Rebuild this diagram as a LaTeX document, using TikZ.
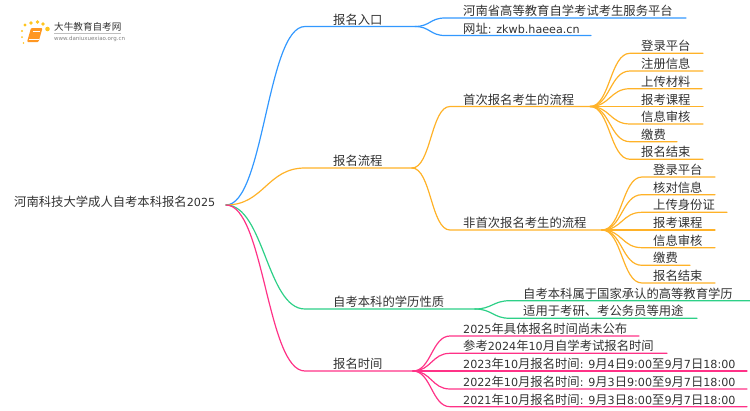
\documentclass[tikz,border=0pt]{standalone}
\usepackage{fontspec}
\setmainfont[Scale=0.905]{DejaVu Sans}
\newfontfamily\cjk{Noto Sans CJK SC}
\newfontfamily\lat[Scale=0.905]{DejaVu Sans}
% hanzi runs switch to the CJK font by themselves
\XeTeXinterchartokenstate=1
\newXeTeXintercharclass\hanzi
\count255="4E00
\loop\XeTeXcharclass\count255=\hanzi\ifnum\count255<"9FFF\advance\count255 by 1\repeat
\XeTeXcharclass"3001=\hanzi
\XeTeXinterchartoks 0 \hanzi={\cjk}
\XeTeXinterchartoks 4095 \hanzi={\cjk}
\XeTeXinterchartoks \hanzi 0={\lat}
\XeTeXinterchartoks \hanzi 4095={\lat}
\definecolor{blueline}{RGB}{50,152,255}
\definecolor{orangeline}{RGB}{255,178,40}
\definecolor{greenline}{RGB}{45,208,135}
\definecolor{pinkline}{RGB}{255,50,135}
\definecolor{inktext}{RGB}{50,50,50}
\tikzset{
	lbl/.style={anchor=base west, inner sep=0pt, yshift=2.4pt, text=inktext, font=\fontsize{12.33}{14}\selectfont},
	wire/.style={line width=1.2pt, line cap=round},
	link/.style={out=0, in=180, distance=#1}
}

\begin{document}
\begin{tikzpicture}[x=1pt, y=-1pt]
	\useasboundingbox (0,0) rectangle (750,410);
	% logo
	\foreach \k/\x/\y/\r in {a/23.5/43/.8, b/22/37/1, c/22/31/1.2, d/25/25/1.6, e/31/23/1.9, f/37.5/22/1.9, g/43/24/1.9, h/47.5/29/2.3}
		\fill[orangeline!75!yellow] (\x,\y) circle (\r);
	\fill[orangeline!85!red, rounded corners=1pt] (31,28) -- (42.5,28) -- (38.5,42) -- (27,42) -- cycle;
	\draw[white, line width=.5pt] (29,39.5) -- (38.5,39.5);
	\draw[white, line width=.5pt] (32.5,31) -- (39.5,31);
	\node[anchor=west, inner sep=0pt, text=inktext, font=\fontsize{9.6}{11}\selectfont] (logotext) at (54,27) {大牛教育自考网};
	\node[anchor=west, inner sep=0pt, text=gray, font=\fontsize{6.1}{7}\selectfont] (logourl) at (54,39) {www.daniuxuexiao.org.cn};
	\draw[black!25, line width=.4pt] (logotext.south west |- 0,33.5) -- (121,33.5);

	% root
	\node[lbl] (title) at (14,208.5) {河南科技大学成人自考本科报名2025};
	\coordinate (root) at (226,205);

	% main branches
	\coordinate (entry) at (305,26.5);
	\coordinate (entryend) at (415,26.5);
	\coordinate (flow) at (305,168);
	\coordinate (flowend) at (412,168);
	\coordinate (kind) at (305,309);
	\coordinate (kindend) at (475,309);
	\coordinate (date) at (305,371);
	\coordinate (dateend) at (413,371);
	\node[lbl] (entrytext) at (333,26.5) {报名入口};
	\node[lbl] (flowtext) at (333,168) {报名流程};
	\node[lbl] (kindtext) at (333,309) {自考本科的学历性质};
	\node[lbl] (datetext) at (333,371) {报名时间};
	\draw[wire, blueline] (root) to[link=38] (entry) -- (entryend);
	\draw[wire, orangeline] (root) to[link=38] (flow) -- (flowend);
	\draw[wire, greenline] (root) to[link=38] (kind) -- (kindend);
	\draw[wire, pinkline] (root) to[link=38] (date) -- (dateend);

	% entry
	\foreach \k/\y/\e/\t in {a/18/686/河南省高等教育自学考试考生服务平台, b/35.5/591/网址: zkwb.haeea.cn}
	{
		\coordinate (en\k) at (445,\y);
		\coordinate (ene\k) at (\e,\y);
		\node[lbl] (ent\k) at (463,\y) {\t};
		\draw[wire, blueline] (entryend) to[link=15] (en\k) -- (ene\k);
	}

	% flow
	\coordinate (first) at (450,106.5);
	\coordinate (firstend) at (590,106.5);
	\coordinate (again) at (450,230);
	\coordinate (againend) at (602,230);
	\node[lbl] (firsttext) at (463,106.5) {首次报名考生的流程};
	\node[lbl] (againtext) at (463,230) {非首次报名考生的流程};
	\draw[wire, orangeline] (flowend) to[link=19] (first) -- (firstend);
	\draw[wire, orangeline] (flowend) to[link=19] (again) -- (againend);
	\foreach \k/\y/\e/\t in {a/53.3/703/登录平台, b/71/703/注册信息, c/88.7/702/上传材料, d/106.5/703/报考课程, e/124/703/信息审核, f/141.7/677/缴费, g/159.3/703/报名结束}
	{
		\coordinate (fi\k) at (630,\y);
		\coordinate (fie\k) at (\e,\y);
		\node[lbl] (fit\k) at (641,\y) {\t};
		\draw[wire, orangeline] (firstend) to[link=20] (fi\k) -- (fie\k);
	}
	\foreach \k/\y/\e/\t in {a/177/715/登录平台, b/194.7/715/核对信息, c/212.3/727/上传身份证, d/230/715/报考课程, e/247.7/715/信息审核, f/265.3/690/缴费, g/283/715/报名结束}
	{
		\coordinate (ag\k) at (642,\y);
		\coordinate (age\k) at (\e,\y);
		\node[lbl] (agt\k) at (653,\y) {\t};
		\draw[wire, orangeline] (againend) to[link=20] (ag\k) -- (age\k);
	}

	% kind
	\foreach \k/\y/\e/\t in {a/300.7/750/自考本科属于国家承认的高等教育学历, b/318.3/697/适用于考研、考公务员等用途}
	{
		\coordinate (ki\k) at (510,\y);
		\coordinate (kie\k) at (\e,\y);
		\node[lbl] (kit\k) at (523,\y) {\t};
		\draw[wire, greenline] (kindend) to[link=17] (ki\k) -- (kie\k);
	}

	% date
	\foreach \k/\y/\e/\t in {a/336/639/2025年具体报名时间尚未公布, b/353.3/667/参考2024年10月自学考试报名时间, c/371/747/2023年10月报名时间: 9月4日9:00至9月7日18:00, d/389/747/2022年10月报名时间: 9月3日9:00至9月7日18:00, e/406.7/747/2021年10月报名时间: 9月3日8:00至9月7日18:00}
	{
		\coordinate (da\k) at (450,\y);
		\coordinate (dae\k) at (\e,\y);
		\node[lbl] (dat\k) at (463,\y) {\t};
		\draw[wire, pinkline] (dateend) to[link=18] (da\k) -- (dae\k);
	}
\end{tikzpicture}
\end{document}
